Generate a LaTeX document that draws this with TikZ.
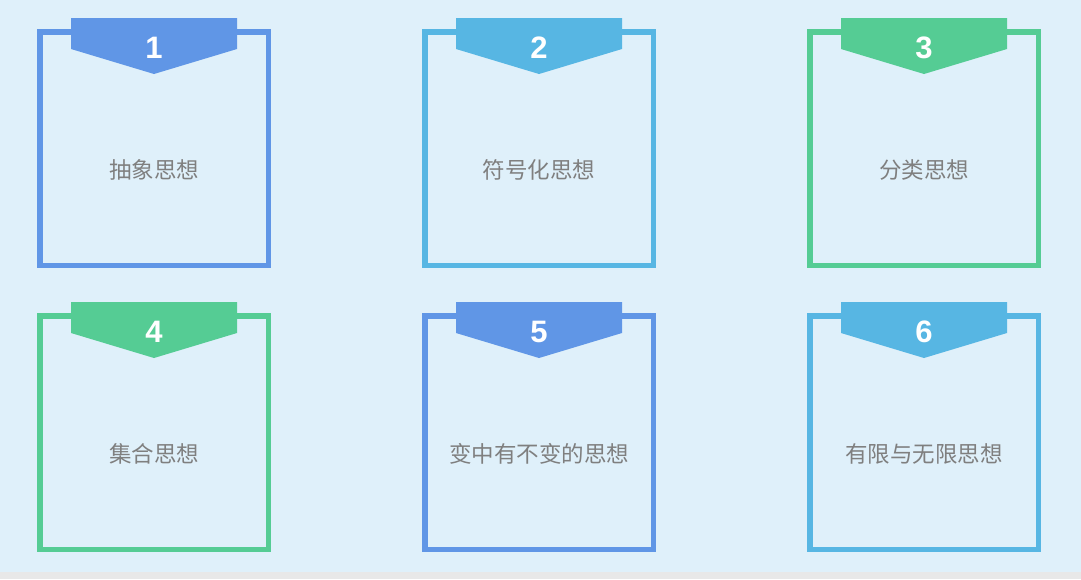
\documentclass[tikz,border=0pt]{standalone}
\usepackage{fontspec}
\setmainfont{Liberation Sans}
\newfontfamily\cjk{Noto Sans CJK SC}
\definecolor{bg}{HTML}{DFF0FA}
\definecolor{strip}{HTML}{E8E8E8}
\definecolor{cblue}{HTML}{6096E6}
\definecolor{clight}{HTML}{57B6E3}
\definecolor{cgreen}{HTML}{55CC94}
\definecolor{txt}{HTML}{7F7F7F}
\tikzset{
  cardbox/.style={draw, line width=5.5pt, minimum width=228.5pt, minimum height=233.5pt, inner sep=0pt},
  numlabel/.style={text=white, font=\fontsize{31}{31}\selectfont\bfseries, inner sep=0pt},
  cardtext/.style={text=txt, font=\cjk\fontsize{22.5}{22.5}\selectfont, inner sep=0pt}
}
\newcommand\mycard[6]{%
  \node[cardbox, draw=#4] (#1box) at (#2,#3+119.5) {};
  \fill[#4] (#2-83,#3-11) -- (#2+83,#3-11) -- (#2+83,#3+20) -- (#2,#3+45) -- (#2-83,#3+20) -- cycle;
  \node[numlabel] (#1num) at (#2,#3+18.5) {#5};
  \node[cardtext] (#1txt) at (#2,#3+140.5) {#6};
}
\begin{document}
\begin{tikzpicture}[x=1pt,y=-1pt]
\fill[bg] (0,0) rectangle (1081,572);
\fill[strip] (0,572) rectangle (1081,579);
\useasboundingbox (0,0) rectangle (1081,579);
\mycard{a}{154}{29}{cblue}{1}{抽象思想}
\mycard{b}{539}{29}{clight}{2}{符号化思想}
\mycard{c}{924}{29}{cgreen}{3}{分类思想}
\mycard{d}{154}{313}{cgreen}{4}{集合思想}
\mycard{e}{539}{313}{cblue}{5}{变中有不变的思想}
\mycard{f}{924}{313}{clight}{6}{有限与无限思想}
\end{tikzpicture}
\end{document}
